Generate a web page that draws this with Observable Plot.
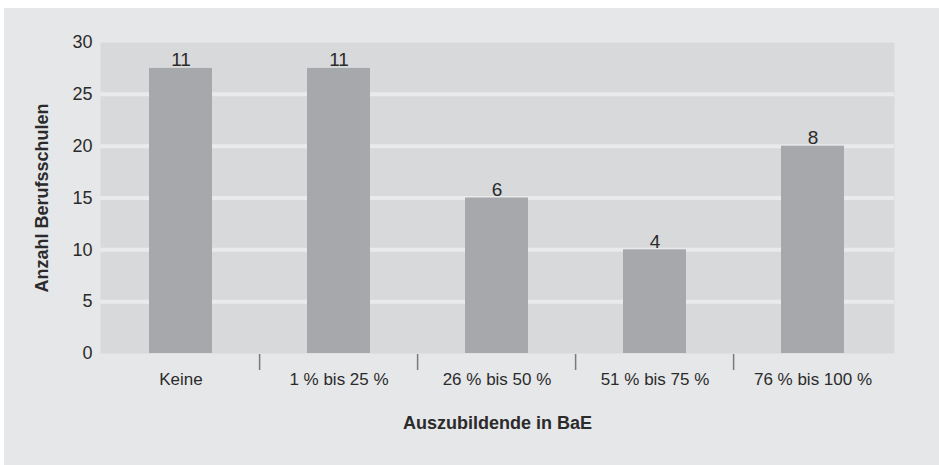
<!DOCTYPE html>
<html><head><meta charset="utf-8">
<script src="https://cdn.jsdelivr.net/npm/d3@7"></script>
<script src="https://cdn.jsdelivr.net/npm/@observablehq/plot@0.6"></script>
<style>
html,body{margin:0;padding:0;background:#fff;}
#chart{position:absolute;left:4px;top:8px;}
</style></head><body><div id="chart"></div>
<script>
const categories = ["Keine", "1 % bis 25 %", "26 % bis 50 %", "51 % bis 75 %", "76 % bis 100 %"];
const counts = [11, 11, 6, 4, 8];
const shares = [27.5, 27.5, 15, 10, 20];
const yTicks = [0, 5, 10, 15, 20, 25, 30];
const gridValues = [5, 10, 15, 20, 25];
const yTitle = "Anzahl Berufsschulen";
const xTitle = "Auszubildende in BaE";

const data = categories.map((c, i) => ({category: c, count: counts[i], share: shares[i]}));
const W = 935, H = 457, mL = 96, mR = 45, mT = 34, mB = 112;
const step = (W - mL - mR) / categories.length;
const font = '"Liberation Sans",Arial,sans-serif';
const ink = "#2b2b2b";

const plot = Plot.plot({
  width: W, height: H, marginLeft: mL, marginRight: mR, marginTop: mT, marginBottom: mB,
  style: {background: "#e6e7e9", fontFamily: font, fontSize: "18px", color: ink},
  x: {domain: categories, paddingInner: 0.6, paddingOuter: 0.3, label: null},
  y: {domain: [0, 30], label: null},
  marks: [
    Plot.frame({fill: "#d8d9db", stroke: "none"}),
    Plot.ruleY(gridValues, {stroke: "#e9eaeb", strokeWidth: 4}),
    Plot.barY(data, {x: "category", y: "share", fill: "#a7a8ab"}),
    Plot.text(data, {x: "category", y: "share", text: d => String(d.count), lineAnchor: "bottom", dy: -2, fill: ink, fontSize: 19}),
    Plot.axisY({ticks: yTicks, tickSize: 0, tickPadding: 8, label: null, fontSize: 18}),
    Plot.axisX({tickSize: 0, tickPadding: 19, label: null, fontSize: 17}),
    Plot.tickX(categories.slice(1), {x: d => d, dx: -step / 2, insetTop: H - mT - mB + 1, insetBottom: -17, stroke: "#7a7a7a", strokeWidth: 1.5}),
    Plot.text([yTitle], {frameAnchor: "left", rotate: -90, textAnchor: "middle", dx: -58, text: d => d, fontWeight: "bold", fontSize: 18, fill: ink}),
    Plot.text([xTitle], {frameAnchor: "bottom", dy: 75, text: d => d, fontWeight: "bold", fontSize: 18, fill: ink})
  ]
});
document.getElementById("chart").appendChild(plot);
</script></body></html>
